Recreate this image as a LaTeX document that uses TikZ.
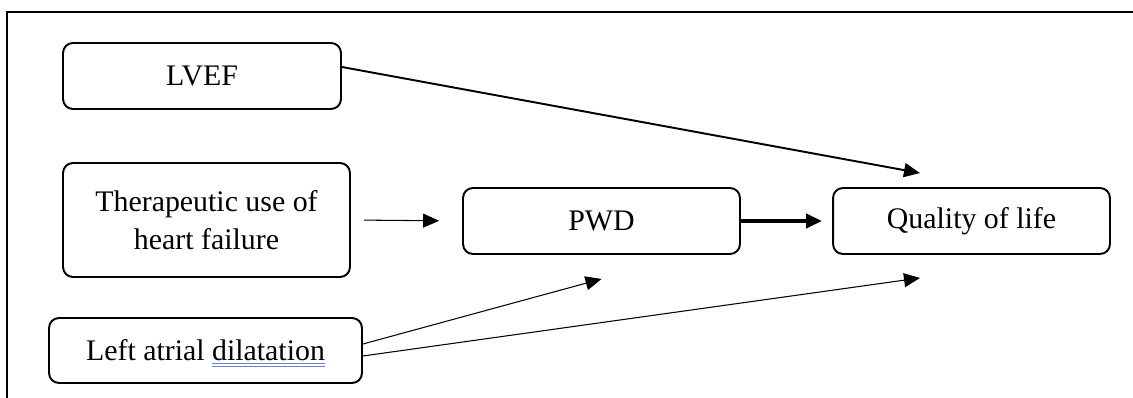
\documentclass[tikz,border=0pt]{standalone}
\usepackage{fontspec}
\setmainfont{Liberation Serif}
\usetikzlibrary{arrows.meta,calc}
\definecolor{ulblue}{RGB}{95,135,205}
% double blue underline of the spell check
\newsavebox{\spellbox}
\newcommand{\spellmark}[1]{\sbox{\spellbox}{#1}\rlap{\usebox{\spellbox}}\smash{\textcolor{ulblue}{\rlap{\rule[-2pt]{\wd\spellbox}{0.55pt}}\rule[-3.7pt]{\wd\spellbox}{0.55pt}}}}

\begin{document}
\begin{tikzpicture}[x=0.02cm, y=-0.02cm,
  box/.style={draw, rounded corners=0.2cm, line width=1.1pt, align=center, inner sep=0pt},
  link/.style={-{Triangle[length=0.32cm,width=0.28cm]}},
  every node/.style={font=\fontsize{17}{21.6}\selectfont}]

\useasboundingbox (0,0) rectangle (1133,398);

% page frame, cut at right and bottom
\draw[line width=1.1pt] (7,398) -- (7,12) -- (1133,12);

% boxes
\node[box, minimum width=5.56cm, minimum height=1.32cm] (lvef) at (202,76) {LVEF};
\node[box, minimum width=5.74cm, minimum height=2.28cm] (therapy) at (206.5,220) {Therapeutic use of\\heart failure};
\node[box, minimum width=6.26cm, minimum height=1.3cm] (atrial) at (205.5,350.5) {Left atrial \spellmark{dilatation}};
\node[box, minimum width=5.54cm, minimum height=1.32cm] (pwd) at (601.5,221) {PWD};
\node[box, minimum width=5.54cm, minimum height=1.32cm] (qol) at (971.5,221) {Quality of life};

% arrows
\draw[link, line width=1.1pt] ([yshift=0.18cm]lvef.east) -- ($(qol.north)+(-51.5,-14)$);
\draw[link, line width=0.6pt, shorten <=0.26cm, shorten >=0.46cm] (therapy.east) -- (pwd.west);
\draw[link, line width=2.8pt, shorten >=0.2cm] (pwd.east) -- (qol.west);
\draw[link, line width=0.6pt] ([yshift=0.13cm]atrial.east) -- ($(pwd.south)+(0,24)$);
\draw[link, line width=0.6pt] ([yshift=-0.11cm]atrial.east) -- ($(qol.south)+(-51.5,23)$);

\end{tikzpicture}
\end{document}
